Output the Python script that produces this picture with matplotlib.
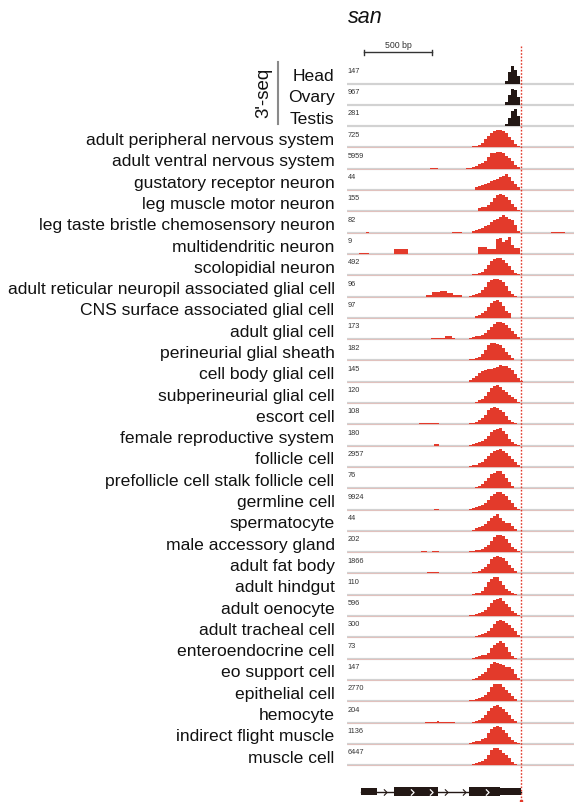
import matplotlib
matplotlib.use("Agg")
import matplotlib.pyplot as plt
import matplotlib.transforms as mtransforms
from matplotlib.path import Path
import numpy as np

plt.rcParams['font.family'] = ['Liberation Sans', 'DejaVu Sans']

# ---------------- data ----------------
gene_name = "san"
seq3_labels = ["Head", "Ovary", "Testis"]
seq3_scales = [147, 967, 281]
cell_labels = [
    "adult peripheral nervous system", "adult ventral nervous system",
    "gustatory receptor neuron", "leg muscle motor neuron",
    "leg taste bristle chemosensory neuron", "multidendritic neuron",
    "scolopidial neuron", "adult reticular neuropil associated glial cell",
    "CNS surface associated glial cell", "adult glial cell",
    "perineurial glial sheath", "cell body glial cell",
    "subperineurial glial cell", "escort cell", "female reproductive system",
    "follicle cell", "prefollicle cell stalk follicle cell", "germline cell",
    "spermatocyte", "male accessory gland", "adult fat body", "adult hindgut",
    "adult oenocyte", "adult tracheal cell", "enteroendocrine cell",
    "eo support cell", "epithelial cell", "hemocyte", "indirect flight muscle",
    "muscle cell",
]
cell_scales = [725, 5959, 44, 155, 82, 9, 492, 96, 97, 173, 182, 145, 120, 108,
               180, 2957, 76, 9924, 44, 202, 1866, 110, 596, 300, 73, 147, 2770,
               204, 1136, 6447]

# coverage (percent of track max) in 19 bins starting at peak_start_bp
peak_start_bp = 883
bin_bp = 22.26

head_cov   = [0,0,0,0,0,0,0,0,0,0,0,0,0,15,65,98,78,45,0]
ovary_cov  = [0,0,0,0,0,0,0,0,0,0,0,0,0,15,55,90,85,45,0]
testis_cov = [0,0,0,0,0,0,0,0,0,0,0,0,0,10,45,85,95,55,0]

apns_cov   = [2,4,6,10,15,25,45,65,80,92,100,100,92,80,60,40,20,8,0]
avns_cov   = [2,5,10,15,25,35,42,67,87,92,96,96,87,73,58,42,23,8,0]
grn_cov    = [0,0,0,15,20,27,35,42,50,55,62,75,80,92,75,50,35,15,0]
lmmn_cov   = [0,0,0,0,18,22,25,35,55,75,90,100,92,80,65,42,22,8,0]
ltb_cov    = [0,0,8,15,22,28,35,45,60,70,80,90,100,90,80,70,45,10,0]
md_cov     = [0,0,0,0,40,40,40,30,28,28,85,90,67,80,95,50,32,32,0]
scol_cov   = [0,0,5,8,12,20,35,60,80,92,100,97,85,70,50,30,15,5,0]
arn_cov    = [0,5,8,12,20,35,55,80,95,100,100,95,80,60,30,12,3,0,0]
cns_cov    = [0,0,0,8,15,25,40,60,85,95,100,90,65,40,25,0,0,0,0]
agc_cov    = [0,4,12,15,18,25,35,50,70,85,95,100,90,78,62,45,28,10,0]
peri_cov   = [0,6,8,12,20,35,60,85,97,100,95,85,70,50,30,15,5,0,0]
cbg_cov    = [0,8,20,35,50,60,68,72,75,78,82,97,90,88,80,65,45,20,5]
subp_cov   = [0,0,0,8,15,25,40,65,85,95,100,90,75,60,48,35,20,5,0]
esc_cov    = [0,5,10,15,22,35,55,80,95,100,93,80,70,45,25,15,5,0,0]
frs_cov    = [0,4,8,12,18,25,35,55,75,88,95,100,85,65,40,20,10,3,0]
foll_cov   = [0,5,8,12,20,30,45,62,80,92,98,100,90,78,62,45,28,8,0]
pref_cov   = [0,0,0,6,15,25,40,60,80,85,100,95,80,60,35,10,0,0,0]
germ_cov   = [0,3,8,12,18,25,35,55,75,90,98,100,90,75,55,35,15,3,0]
sperm_cov  = [0,0,5,15,20,25,40,55,70,85,95,75,55,45,45,25,10,0,0]
mag_cov    = [0,4,7,10,14,20,30,42,62,85,95,100,90,72,50,30,15,5,0]
fat_cov    = [0,4,6,10,16,25,38,55,80,95,100,95,85,70,50,30,12,4,0]
hind_cov   = [0,0,4,10,12,20,45,70,90,100,100,80,55,35,20,10,5,0,0]
oeno_cov   = [0,3,6,10,16,25,35,50,75,90,97,100,85,70,50,30,15,3,0]
trach_cov  = [0,0,4,8,12,18,25,35,55,75,92,100,92,80,68,52,35,15,3]
entero_cov = [0,0,4,10,15,18,22,30,60,80,90,100,90,65,35,12,4,0,0]
eo_cov     = [0,0,5,10,20,32,45,70,90,100,95,90,85,75,75,60,35,10,0]
epi_cov    = [0,4,8,12,18,25,38,55,80,95,100,95,82,65,45,28,12,3,0]
hemo_cov   = [0,0,4,8,15,25,45,68,85,95,100,90,78,62,40,22,8,0,0]
ifm_cov    = [0,6,10,14,18,25,35,60,85,98,100,95,80,60,40,22,10,3,0]
musc_cov   = [0,3,6,10,16,24,35,55,85,100,95,85,70,55,38,20,8,0,0]

seq3_cov = [head_cov, ovary_cov, testis_cov]
cell_cov = [apns_cov, avns_cov, grn_cov, lmmn_cov, ltb_cov, md_cov, scol_cov,
            arn_cov, cns_cov, agc_cov, peri_cov, cbg_cov, subp_cov, esc_cov,
            frs_cov, foll_cov, pref_cov, germ_cov, sperm_cov, mag_cov, fat_cov,
            hind_cov, oeno_cov, trach_cov, entero_cov, eo_cov, epi_cov,
            hemo_cov, ifm_cov, musc_cov]

# minor coverage blocks: track index -> list of (start_bp, end_bp, percent)
minor_blocks = {
    0: [(616, 675, 4), (690, 801, 3)],
    1: [(616, 675, 5)],
    4: [(141, 163, 6), (779, 853, 5), (1514, 1618, 6)],
    5: [(89, 163, 6), (349, 453, 30)],
    7: [(586, 631, 8), (631, 690, 24), (690, 742, 30), (742, 787, 20), (787, 853, 10)],
    9: [(623, 727, 6), (727, 779, 15), (779, 801, 6)],
    13: [(475, 534, 3), (534, 683, 10)],
    14: [(646, 683, 8)],
    17: [(646, 683, 5)],
    19: [(549, 594, 8), (631, 683, 8)],
    20: [(542, 594, 3), (594, 683, 10)],
    23: [(646, 801, 3)],
    27: [(579, 801, 3), (668, 683, 8)],
}

# gene model (bp)
utr_blocks = [(104, 223), (1135, 1293)]
cds_blocks = [(349, 675), (905, 1135)]
intron_chevrons = [282, 735, 868]
exon_chevrons = [480, 621, 1037]
gene_span = (104, 1293)
cleavage_bp = 1293
scale_bar = (128, 628)

# ---------------- layout ----------------
W, H = 574, 803
fig = plt.figure(figsize=(W / 100, H / 100), dpi=100)
row_px = 21.3
base0_px = 84.5
top_px, left_px = 40, 347
ax = fig.add_axes([left_px / W, 0, (W - left_px) / W, (H - top_px) / H])
XMAX = (W - left_px) * 7.42
ax.set_xlim(0, XMAX)
ax.set_ylim(-(H - base0_px) / row_px, (base0_px - top_px) / row_px)
ax.axis('off')

def py(px):
    return (base0_px - px) / row_px

red = '#E33A2B'
black = '#231815'
track_h = 17.6 / row_px
edges = peak_start_bp + bin_bp * np.arange(len(head_cov))
lab_tr = mtransforms.blended_transform_factory(fig.transFigure, ax.transData)

all_labels = seq3_labels + cell_labels
all_scales = seq3_scales + cell_scales
all_cov = seq3_cov + cell_cov
for i, (lab, sc, cov) in enumerate(zip(all_labels, all_scales, all_cov)):
    y0 = -i
    is3 = i < 3
    col = black if is3 else red
    ax.hlines(y0, 0, XMAX, color='#D2D2D2', lw=1.6, zorder=1)
    if not is3:
        ax.hlines(y0, 0, XMAX, color='#EDB5AE', lw=0.7, alpha=0.6, zorder=1.5)
    h = np.array(cov) / 100 * track_h
    ax.bar(edges, h, width=bin_bp, align='edge', bottom=y0, color=col,
           linewidth=0, zorder=2)
    for (s, e, p) in minor_blocks.get(i - 3, []) if not is3 else []:
        ax.bar(s, p / 100 * track_h, width=e - s, align='edge', bottom=y0,
               color=col, linewidth=0, zorder=2)
    ax.text(3, y0 + 16.8 / row_px, str(sc), fontsize=5.3, color='#333333',
            va='top', ha='left')
    ax.text(334.5 / W, y0 + 3.4 / row_px, lab, transform=lab_tr,
            fontsize=12.6, ha='right', va='baseline', color='#111111')

# 3'-seq bracket
ax.text(264 / W, py(93), "3'-seq", transform=lab_tr, rotation=90,
        fontsize=13.5, ha='center', va='center', color='#111111')
ax.plot([278.3 / W, 278.3 / W], [py(63), py(125)], transform=lab_tr,
        color='#8A8A8A', lw=1.5, clip_on=False)

# title
ax.text(7, py(23.3), gene_name, fontsize=15.5, style='italic',
        ha='left', va='baseline', color='#111111')

# scale bar
ax.plot(scale_bar, [py(53.3)] * 2, color='#333333', lw=1)
for xb in scale_bar:
    ax.plot([xb, xb], [py(50.8), py(55.8)], color='#333333', lw=1)
ax.text(np.mean(scale_bar), py(45), "500 bp", fontsize=6.3, ha='center',
        va='center', color='#333333')

# cleavage site line
ax.vlines(cleavage_bp, py(802), py(46), colors=red, lw=1,
          linestyles=(0, (1.2, 1.2)), zorder=3)
ax.plot([cleavage_bp], [py(802)], marker='s', ms=2, color=red, clip_on=False)

# gene model
gy = py(792.7)
ax.plot(gene_span, [gy, gy], color=black, lw=1, zorder=4)
cds_h = 9.3 / row_px
utr_h = 6.7 / row_px
ax.broken_barh([(s, e - s) for s, e in cds_blocks], (gy - cds_h / 2, cds_h),
               facecolor=black, zorder=5)
ax.broken_barh([(s, e - s) for s, e in utr_blocks], (gy - utr_h / 2, utr_h),
               facecolor=black, zorder=5)
chev = Path([(-0.5, 1), (0.5, 0), (-0.5, -1)],
            [Path.MOVETO, Path.LINETO, Path.LINETO])
ax.plot(intron_chevrons, [gy] * len(intron_chevrons), ls='none', marker=chev,
        ms=4.5, mfc='none', mec=black, mew=0.8, zorder=6)
ax.plot(exon_chevrons, [gy] * len(exon_chevrons), ls='none', marker=chev,
        ms=4.5, mfc='none', mec='white', mew=0.9, zorder=6)

fig.savefig("out.png", dpi=100)
